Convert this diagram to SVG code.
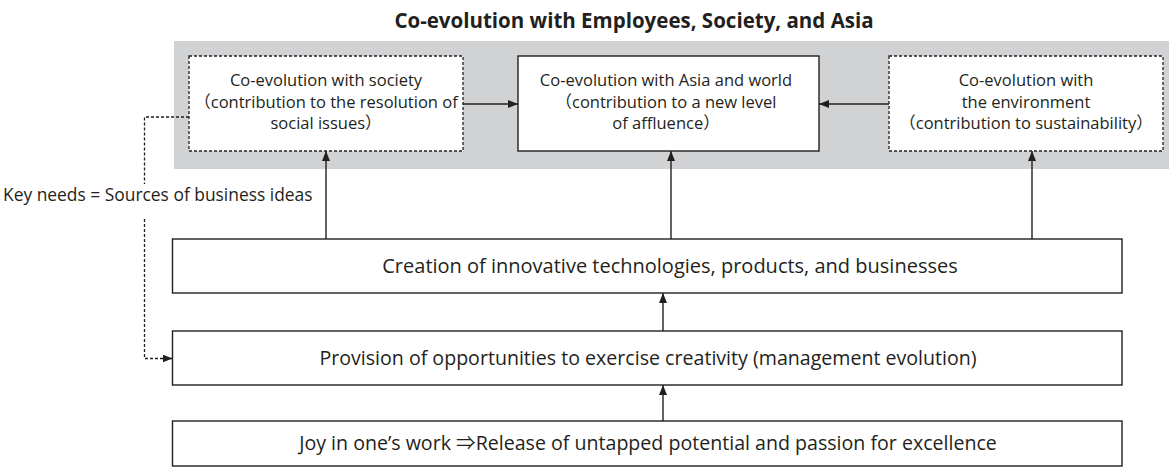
<svg xmlns="http://www.w3.org/2000/svg" width="1173" height="474" viewBox="0 0 1173 474">
<style>
text{font-family:"Open Sans","Noto Sans","Noto Sans CJK JP",sans-serif;fill:#231f20;text-anchor:middle}
.t{font-size:20.5px;font-weight:bold}
.s{font-size:16.5px}
.m{font-size:19.6px}
.c{font-size:20px}
.k{font-size:17.4px;text-anchor:start}
.box{fill:#fff;stroke:#231f20;stroke-width:1.4}
.dbox{fill:#fff;stroke:#231f20;stroke-width:1.3;stroke-dasharray:3 2}
.ln{fill:none;stroke:#231f20;stroke-width:1.4}
.dl{fill:none;stroke:#231f20;stroke-width:1.3;stroke-dasharray:3 2}
</style>
<defs>
<marker id="ah" viewBox="0 0 10 8" refX="10" refY="4" markerWidth="10" markerHeight="8" markerUnits="userSpaceOnUse" orient="auto">
<path d="M0,0 L10,4 L0,8 Z" fill="#231f20"/>
</marker>
</defs>
<text class="t" x="634" y="28">Co-evolution with Employees, Society, and Asia</text>
<rect x="174" y="41" width="995" height="128" fill="#d1d2d4"/>
<g id="society">
<rect class="dbox" x="189" y="56" width="274" height="95"/>
<text class="s" x="326" y="86">Co-evolution with society</text>
<text class="s" x="326" y="107.5">（contribution to the resolution of</text>
<text class="s" x="326" y="129">social issues）</text>
</g>
<g id="asia">
<rect class="box" x="518" y="56" width="301" height="95"/>
<text class="s" x="666" y="86">Co-evolution with Asia and world</text>
<text class="s" x="666" y="107.5">（contribution to a new level</text>
<text class="s" x="666" y="129">of affluence）</text>
</g>
<g id="environment">
<rect class="dbox" x="889" y="56" width="274" height="95"/>
<text class="s" x="1026" y="86">Co-evolution with</text>
<text class="s" x="1026" y="107.5">the environment</text>
<text class="s" x="1026" y="129">（contribution to sustainability）</text>
</g>
<g id="creation">
<rect class="box" x="172.5" y="239" width="949.5" height="54"/>
<text class="c" x="670" y="273">Creation of innovative technologies, products, and businesses</text>
</g>
<g id="provision">
<rect class="box" x="172.5" y="331" width="949.5" height="54"/>
<text class="m" x="648" y="365">Provision of opportunities to exercise creativity (management evolution)</text>
</g>
<g id="joy">
<rect class="box" x="172.5" y="421" width="949.5" height="45"/>
<text class="m" x="648" y="450">Joy in one’s work ⇒Release of untapped potential and passion for excellence</text>
</g>
<text class="k" x="3" y="201">Key needs = Sources of business ideas</text>
<g id="connectors">
<line class="ln" x1="463" y1="104" x2="518" y2="104" marker-end="url(#ah)"/>
<line class="ln" x1="889" y1="104" x2="819" y2="104" marker-end="url(#ah)"/>
<line class="ln" x1="326" y1="239" x2="326" y2="151" marker-end="url(#ah)"/>
<line class="ln" x1="671" y1="239" x2="671" y2="151" marker-end="url(#ah)"/>
<line class="ln" x1="1032" y1="239" x2="1032" y2="151" marker-end="url(#ah)"/>
<line class="ln" x1="663" y1="331" x2="663" y2="293" marker-end="url(#ah)"/>
<line class="ln" x1="663" y1="421" x2="663" y2="385" marker-end="url(#ah)"/>
<polyline class="dl" points="189,117 144.5,117 144.5,184"/>
<polyline class="dl" points="144.5,219 144.5,358.5 172.5,358.5" marker-end="url(#ah)"/>
</g>
</svg>
